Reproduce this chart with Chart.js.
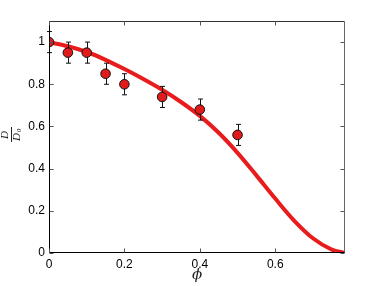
<!DOCTYPE html>
<html>
<head>
<meta charset="utf-8">
<script src="https://cdn.jsdelivr.net/npm/chart.js@4.4.1/dist/chart.umd.min.js"></script>
<style>
    body { margin: 0; background: #fff; }
    #wrap { width: 382px; height: 286px; }
</style>
</head>
<body>
<div id="wrap"><canvas id="diffusion-chart"></canvas></div>
<script>
// measured points with error bars
var phiPoints = [0, 0.05, 0.1, 0.15, 0.2, 0.3, 0.4, 0.5];
var dPoints = [1.0, 0.95, 0.95, 0.85, 0.80, 0.74, 0.68, 0.56];
var dErr = [0.05, 0.05, 0.05, 0.05, 0.05, 0.05, 0.05, 0.05];

// model curve
var phiCurve = [0, 0.05, 0.1, 0.15, 0.2, 0.25, 0.3, 0.35, 0.4, 0.45, 0.5, 0.55, 0.6, 0.65, 0.7, 0.75, 0.785];
var dCurve = [1.0, 0.98, 0.953, 0.916, 0.872, 0.825, 0.774, 0.716, 0.65, 0.57, 0.475, 0.368, 0.258, 0.154, 0.07, 0.016, 0.0];

var xTicks = [0, 0.2, 0.4, 0.6];
var yTicks = [0, 0.2, 0.4, 0.6, 0.8, 1.0];

var red = 'rgb(232, 28, 28)';
var labelFont = {family: "'Liberation Sans', Arial, sans-serif", size: 12};

function toXY(xs, ys) {
    return xs.map(function (x, i) { return {x: x, y: ys[i]}; });
}

function fmtTick(v) {
    return String(Math.round(v * 10) / 10);
}

var errorBars = {
    id: 'errorBars',
    afterDatasetDraw: function (chart, args) {
        if (args.index !== 1) return;
        var ctx = chart.ctx;
        var xs = chart.scales.x, ys = chart.scales.y;
        ctx.save();
        ctx.strokeStyle = '#111';
        ctx.lineWidth = 1;
        for (var i = 0; i < phiPoints.length; i++) {
            var px = Math.round(xs.getPixelForValue(phiPoints[i])) + 0.5;
            var top = ys.getPixelForValue(dPoints[i] + dErr[i]);
            var bot = ys.getPixelForValue(dPoints[i] - dErr[i]);
            ctx.beginPath();
            ctx.moveTo(px, top); ctx.lineTo(px, bot);
            ctx.moveTo(px - 2.5, top); ctx.lineTo(px + 2.5, top);
            ctx.moveTo(px - 2.5, bot); ctx.lineTo(px + 2.5, bot);
            ctx.stroke();
        }
        ctx.restore();
    }
};

var frame = {
    id: 'frame',
    afterDraw: function (chart) {
        var ctx = chart.ctx;
        var a = chart.chartArea;
        var xs = chart.scales.x, ys = chart.scales.y;
        var l = Math.round(a.left) + 0.5, r = Math.round(a.right) - 0.5;
        var t = Math.round(a.top) + 0.5, b = Math.round(a.bottom) - 0.5;
        ctx.save();
        ctx.lineWidth = 1;

        ctx.strokeStyle = '#333';
        ctx.beginPath(); ctx.moveTo(l, t); ctx.lineTo(r, t); ctx.stroke();
        ctx.strokeStyle = '#666';
        ctx.beginPath(); ctx.moveTo(r, t); ctx.lineTo(r, b); ctx.stroke();
        ctx.strokeStyle = '#000';
        ctx.beginPath(); ctx.moveTo(l, t); ctx.lineTo(l, b); ctx.lineTo(r, b); ctx.stroke();

        // inward ticks on all four sides
        ctx.strokeStyle = '#555';
        ctx.beginPath();
        xTicks.forEach(function (v) {
            var px = Math.round(xs.getPixelForValue(v)) + 0.5;
            ctx.moveTo(px, b); ctx.lineTo(px, b - 4);
            ctx.moveTo(px, t); ctx.lineTo(px, t + 4);
        });
        yTicks.forEach(function (v) {
            var py = Math.round(ys.getPixelForValue(v)) + 0.5;
            ctx.moveTo(l, py); ctx.lineTo(l + 4, py);
            ctx.moveTo(r, py); ctx.lineTo(r - 4, py);
        });
        ctx.stroke();

        // x title
        ctx.fillStyle = '#222';
        ctx.font = "italic 15px 'DejaVu Serif', 'Liberation Serif', serif";
        ctx.textAlign = 'center';
        ctx.textBaseline = 'middle';
        ctx.fillText('\u03d5', (a.left + a.right) / 2, 275);

        // y title as a fraction D / D0, rotated
        ctx.translate(11, 135);
        ctx.rotate(-Math.PI / 2);
        ctx.font = "italic 11px 'Liberation Serif', 'DejaVu Serif', serif";
        ctx.fillText('D', 0, -5.5);
        ctx.fillText('D', -2, 6);
        ctx.font = "italic 7px 'Liberation Serif', 'DejaVu Serif', serif";
        ctx.fillText('0', 4.5, 8.5);
        ctx.strokeStyle = '#222';
        ctx.beginPath(); ctx.moveTo(-7, 0.5); ctx.lineTo(8, 0.5); ctx.stroke();
        ctx.restore();
    }
};

var chart = new Chart(document.getElementById('diffusion-chart'), {
    type: 'scatter',
    data: {
        datasets: [
            {
                label: 'data',
                data: toXY(phiPoints, dPoints),
                backgroundColor: 'rgb(225, 27, 27)',
                borderColor: '#111',
                borderWidth: 1,
                pointRadius: 4.8,
                showLine: false,
                order: 0
            },
            {
                label: 'model',
                data: toXY(phiCurve, dCurve),
                borderColor: red,
                backgroundColor: red,
                borderWidth: 4,
                pointRadius: 0,
                showLine: true,
                tension: 0.4,
                cubicInterpolationMode: 'monotone',
                fill: false,
                order: 1
            }
        ]
    },
    options: {
        responsive: true,
        maintainAspectRatio: false,
        animation: false,
        layout: {padding: {left: 0, top: 21, right: 37, bottom: 0}},
        plugins: {legend: {display: false}, tooltip: {enabled: false}},
        scales: {
            x: {
                type: 'linear',
                min: 0,
                max: 0.785,
                grid: {display: false, drawTicks: false},
                border: {display: false},
                afterBuildTicks: function (scale) {
                    scale.ticks = xTicks.map(function (v) { return {value: v}; });
                },
                afterFit: function (scale) { scale.height = 33; },
                ticks: {
                    color: '#000',
                    font: labelFont,
                    padding: 4,
                    maxRotation: 0,
                    callback: fmtTick
                }
            },
            y: {
                type: 'linear',
                min: 0,
                max: 1.1,
                grid: {display: false, drawTicks: false},
                border: {display: false},
                afterBuildTicks: function (scale) {
                    scale.ticks = yTicks.map(function (v) { return {value: v}; });
                },
                afterFit: function (scale) { scale.width = 49; },
                ticks: {
                    color: '#000',
                    font: labelFont,
                    padding: 4,
                    callback: fmtTick
                }
            }
        }
    },
    plugins: [errorBars, frame]
});
</script>
</body>
</html>
